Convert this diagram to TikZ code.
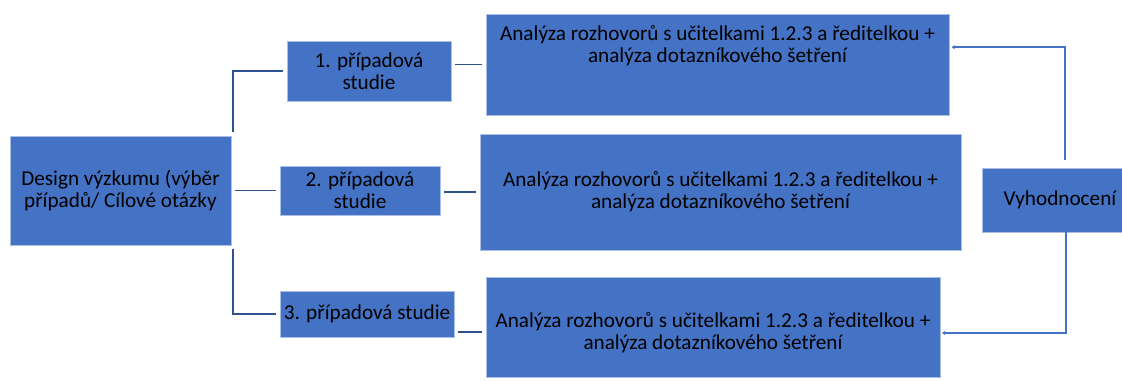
\documentclass[tikz,border=0pt]{standalone}
\usepackage{fontspec}
\setmainfont{Carlito}
\usetikzlibrary{arrows.meta}
\definecolor{boxblue}{HTML}{4472C4}
\definecolor{linkdark}{HTML}{2F528F}
\definecolor{boxedge}{HTML}{A9BFE6}

\begin{document}
\begin{tikzpicture}[x=0.75pt,y=-0.75pt,
        box/.style={fill=boxblue, draw=boxedge, line width=0.6pt, inner sep=0pt, align=center, font=\fontsize{15.9}{16.6}\selectfont},
        txt/.style={inner sep=0pt, align=center, font=\fontsize{15.9}{16.6}\selectfont},
        lnk/.style={draw=linkdark, line width=1.4pt},
        back/.style={draw=boxblue, line width=1.9pt, -{Latex[length=2.5pt,width=3.5pt]}}]
    \useasboundingbox (0,0) rectangle (1122,380);
    % boxes
    \node[box, minimum width=165.75pt, minimum height=81.75pt] (design) at (120.5,190.5) {Design výzkumu (výběr\\případů/ Cílové otázky};
    \node[box, minimum width=123pt, minimum height=45pt] (case1) at (369,71) {1. případová\\studie};
    \node[box, minimum width=120pt, minimum height=36.75pt] (case2) at (360,190.5) {2. případová\\studie};
    \node[box, minimum width=130.5pt, minimum height=34.5pt] (case3) at (367,314) {3. případová studie};
    \node[box, minimum width=347.25pt, minimum height=75.75pt] (anal1) at (717.5,64.5) {};
    \node[txt, anchor=north] (anal1txt) at ([yshift=-8.5pt]anal1.north) {Analýza rozhovorů s učitelkami 1.2.3 a ředitelkou +\\analýza dotazníkového šetření};
    \node[box, minimum width=360.75pt, minimum height=87pt] (anal2) at (720.5,192) {Analýza rozhovorů s učitelkami 1.2.3 a ředitelkou +\\analýza dotazníkového šetření};
    \node[box, minimum width=340.5pt, minimum height=75pt] (anal3) at (713,327) {};
    \node[txt] (anal3txt) at ([yshift=-4.5pt]anal3.center) {Analýza rozhovorů s učitelkami 1.2.3 a ředitelkou +\\analýza dotazníkového šetření};
    \node[box, minimum width=130pt, minimum height=48pt] (eval) at (1069,200) {\hspace*{-13.5pt}Vyhodnocení};
    % left links
    \draw[lnk] ([shift={(1.5pt,3pt)}]design.north east) |- ([xshift=-3pt]case1.west);
    \draw[lnk, shorten <=3pt, shorten >=3pt] (design.east) -- (case2.west);
    \draw[lnk] ([shift={(1.5pt,-3pt)}]design.south east) |- ([xshift=-3pt]case3.west);
    \draw[lnk, shorten <=3pt, shorten >=3pt] (case1.east |- anal1.west) -- (anal1.west);
    \draw[lnk, shorten <=3pt, shorten >=3pt] (case2.east |- anal2.west) -- (anal2.west);
    \draw[lnk] ([shift={(3pt,-13.5pt)}]case3.east) -- ([shift={(-3pt,-3.75pt)}]anal3.west);
    % back to Vyhodnoceni
    \draw[back] ([shift={(-3pt,6pt)}]eval.north) |- ([shift={(1.5pt,13pt)}]anal1.east);
    \draw[back] ([xshift=-2.25pt]eval.south) |- ([shift={(1pt,-4.5pt)}]anal3.east);
\end{tikzpicture}
\end{document}
